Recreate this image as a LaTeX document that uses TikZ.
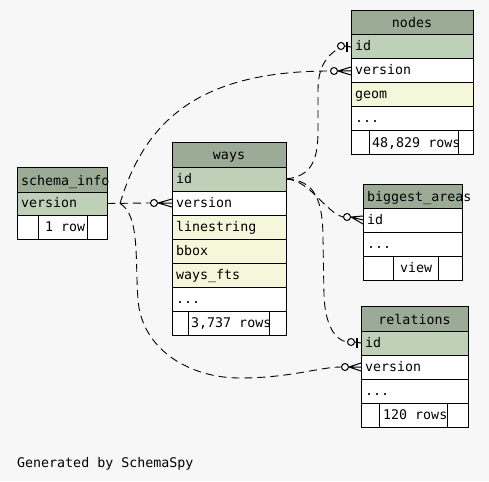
\documentclass[tikz,border=0pt]{standalone}
\usepackage{fontspec}
\newfontfamily\schmono{DejaVu Sans Mono}
\definecolor{bg}{HTML}{F7F7F7}
\definecolor{hdr}{HTML}{9BAB96}
\definecolor{pk}{HTML}{BED1B8}
\definecolor{idx}{HTML}{F4F7DA}
\tikzset{
  cellbox/.style={draw=black, line width=1pt, anchor=north west, inner sep=0pt, outer sep=0pt, minimum height=24pt},
  celltext/.style={anchor=base west, inner sep=0pt, font=\schmono\fontsize{13.3}{15}\selectfont},
  ctext/.style={celltext, anchor=base},
  rel/.style={line width=0.9pt, dash pattern=on 8pt off 5pt},
  circ/.style={circle, draw=black, line width=1pt, fill=bg, inner sep=0pt, minimum size=7pt},
  foot/.style={line width=1pt},
  teebar/.style={line width=2.2pt},
}
% row: name, x, ytop, width, fill, text
\newcommand\trow[6]{%
  \node[cellbox, fill=#5, minimum width=#4] (#1) at (#2,#3) {};
  \node[celltext] (#1-t) at (#2+4,#3+16) {#6};}
% header: name, x, ytop, width, height, text (centered)
\newcommand\theadc[6]{%
  \node[cellbox, fill=hdr, minimum width=#4, minimum height=#5] (#1) at (#2,#3) {};
  \node[ctext] (#1-t) at (#2+#4/2,#3+#5-7) {#6};}
% header, left-aligned text
\newcommand\theadl[6]{%
  \node[cellbox, fill=hdr, minimum width=#4, minimum height=#5] (#1) at (#2,#3) {};
  \node[celltext] (#1-t) at (#2+4,#3+#5-7) {#6};}
% footer: name, x, ytop, width, inner1, inner2, text, text-x
\newcommand\tfoot[8]{%
  \node[cellbox, fill=white, minimum width=#5-#2] (#1-l) at (#2,#3) {};
  \node[cellbox, fill=white, minimum width=#6-#5] (#1-m) at (#5,#3) {};
  \node[cellbox, fill=white, minimum width=#2+#4-#6] (#1-r) at (#6,#3) {};
  \begin{scope}
    \clip (#5,#3) rectangle (#6,#3+24);
    \node[celltext] (#1-t) at (#8,#3+16) {#7};
  \end{scope}}
\begin{document}
\begin{tikzpicture}[x=1pt,y=-1pt]
\path[fill=bg] (0,0) rectangle (489,481);

% ---- nodes
\theadc{nodes}{351}{11}{122}{24}{nodes}
\trow{nodes-id}{351}{35}{122}{pk}{id}
\trow{nodes-version}{351}{59}{122}{white}{version}
\trow{nodes-geom}{351}{83}{122}{idx}{geom}
\trow{nodes-more}{351}{107}{122}{white}{...}
\tfoot{nodes-f}{351}{131}{122}{369}{458}{48,829 rows}{372}

% ---- ways
\theadc{ways}{172}{143}{114}{24}{ways}
\trow{ways-id}{172}{167}{114}{pk}{id}
\trow{ways-version}{172}{191}{114}{white}{version}
\trow{ways-linestring}{172}{215}{114}{idx}{linestring}
\trow{ways-bbox}{172}{239}{114}{idx}{bbox}
\trow{ways-fts}{172}{263}{114}{idx}{ways\_fts}
\trow{ways-more}{172}{287}{114}{white}{...}
\tfoot{ways-f}{172}{311}{114}{188}{269}{3,737 rows}{191}

% ---- schema_info
\theadl{schema}{17}{167}{90}{25}{schema\_info}
\node[cellbox, fill=pk, minimum width=90, minimum height=23] (schema-version) at (17,192) {};
\node[celltext] (schema-version-t) at (21,207) {version};
\tfoot{schema-f}{17}{215}{90}{38}{87}{1 row}{45}

% ---- biggest_areas
\theadl{biggest}{363}{184}{99}{24}{biggest\_areas}
\trow{biggest-id}{363}{208}{99}{white}{id}
\trow{biggest-more}{363}{232}{99}{white}{...}
\tfoot{biggest-f}{363}{256}{99}{393}{438}{view}{400}

% ---- relations
\theadc{relations}{361}{306}{107}{25}{relations}
\trow{relations-id}{361}{331}{107}{pk}{id}
\trow{relations-version}{361}{355}{107}{white}{version}
\trow{relations-more}{361}{379}{107}{white}{...}
\tfoot{relations-f}{361}{403}{107}{379}{447}{120 rows}{383}

% ---- footer
\node[celltext] (gen) at (17,467) {Generated by SchemaSpy};

% ---- end markers (circles)
\node[circ] (o1) at ([xshift=-18pt]ways-version.west) {};
\node[circ] (o2) at ([xshift=-17pt]nodes-version.west) {};
\node[circ] (o3) at ([xshift=-16pt]relations-version.west) {};
\node[circ] (o4) at ([xshift=-10pt,yshift=1pt]nodes-id.west) {};
\node[circ] (o5) at ([xshift=-16pt,yshift=3pt]biggest-id.west) {};
\node[circ] (o6) at ([xshift=-10pt,yshift=1pt]relations-id.west) {};

% ---- connectors
\draw[rel] (schema-version.east) -- (o1.west);
\draw[rel] (schema-version.east) -- ++(13,0) .. controls (145,120) and (200,71) .. (o2.west);
\draw[rel] (schema-version.east) -- ++(13,0) .. controls (140,215) and (135,260) .. (138,300)
  .. controls (142,350) and (190,378) .. (240,378) .. controls (290,378) and (320,367) .. (o3.west);
\draw[rel] (ways-id.east) .. controls (312,176) and (318,160) .. (318,130) -- (318,90)
  .. controls (318,68) and (326,56) .. (o4.south west);
\draw[rel] (ways-id.east) .. controls (310,180) and (325,212) .. (o5.west);
\draw[rel] (ways-id.east) .. controls (315,180) and (323,200) .. (323,240) -- (324,295)
  .. controls (325,325) and (335,340) .. (o6.west);

% ---- crow's feet
\foreach \o/\t in {o1/ways-version, o2/nodes-version, o3/relations-version, o5/biggest-id}{
  \draw[foot] (\o.east) -- (\t.west) (\o.east) -- ([yshift=4pt]\t.west) (\o.east) -- ([yshift=-4pt]\t.west);
}
% ---- tees
\foreach \o/\t in {o4/nodes-id, o6/relations-id}{
  \draw[foot] (\o.east) -- (\t.west);
  \draw[teebar] ([xshift=-4pt,yshift=5pt]\t.west) -- ([xshift=-4pt,yshift=-5pt]\t.west);
}
\end{tikzpicture}
\end{document}
